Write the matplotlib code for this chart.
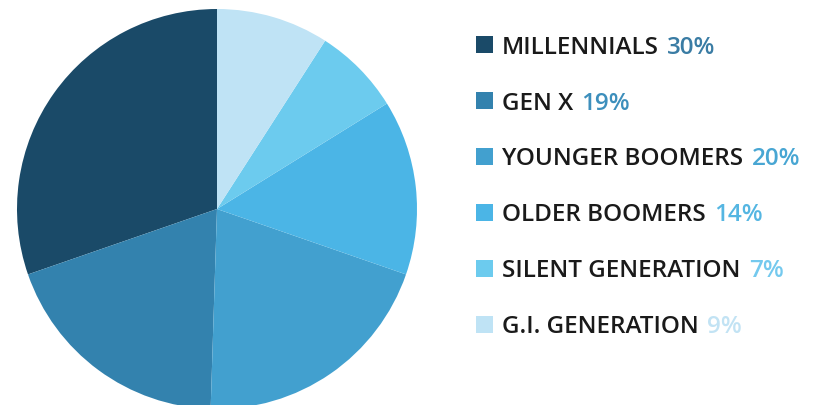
import matplotlib
matplotlib.use("Agg")
import matplotlib.pyplot as plt

labels = ["MILLENNIALS", "GEN X", "YOUNGER BOOMERS", "OLDER BOOMERS", "SILENT GENERATION", "G.I. GENERATION"]
values = [30, 19, 20, 14, 7, 9]
pct_labels = ["30%", "19%", "20%", "14%", "7%", "9%"]
colors = ["#1a4a68", "#3382ae", "#42a0cf", "#4bb5e6", "#6ccbee", "#bfe3f5"]
pct_colors = ["#3a7ca4", "#3d8fbc", "#48a6d3", "#55b6e2", "#74c9ee", "#c2e3f4"]

W, H = 821, 406
fig = plt.figure(figsize=(W / 100, H / 100), dpi=100)
fig.patch.set_facecolor("white")

ax = fig.add_axes([17 / W, -4 / H, 400 / W, 400 / H])
ax.pie(values, colors=colors, startangle=90, counterclock=True, radius=1,
       wedgeprops=dict(linewidth=0))
ax.set_xlim(-1, 1)
ax.set_ylim(-1, 1)
ax.axis("off")

lx = fig.add_axes([0, 0, 1, 1])
lx.set_xlim(0, W)
lx.set_ylim(H, 0)
lx.axis("off")

row_y = [45 + 56 * i for i in range(len(labels))]
for i, (lab, pct) in enumerate(zip(labels, pct_labels)):
    y = row_y[i]
    lx.scatter([484], [y], marker="s", s=(17 * 0.72) ** 2, color=colors[i], linewidths=0)
    t = lx.text(502, y + 8.5, lab, fontsize=17.5, fontfamily="Open Sans", fontweight="semibold",
                color="#1a1a1a", va="baseline", ha="left")
    lx.annotate(pct, xy=(1, 0), xycoords=t, xytext=(6, 0), textcoords="offset points",
                fontsize=17.5, fontfamily="Open Sans", fontweight="semibold",
                color=pct_colors[i], va="bottom", ha="left")

fig.savefig("out.png", dpi=100, facecolor="white")
